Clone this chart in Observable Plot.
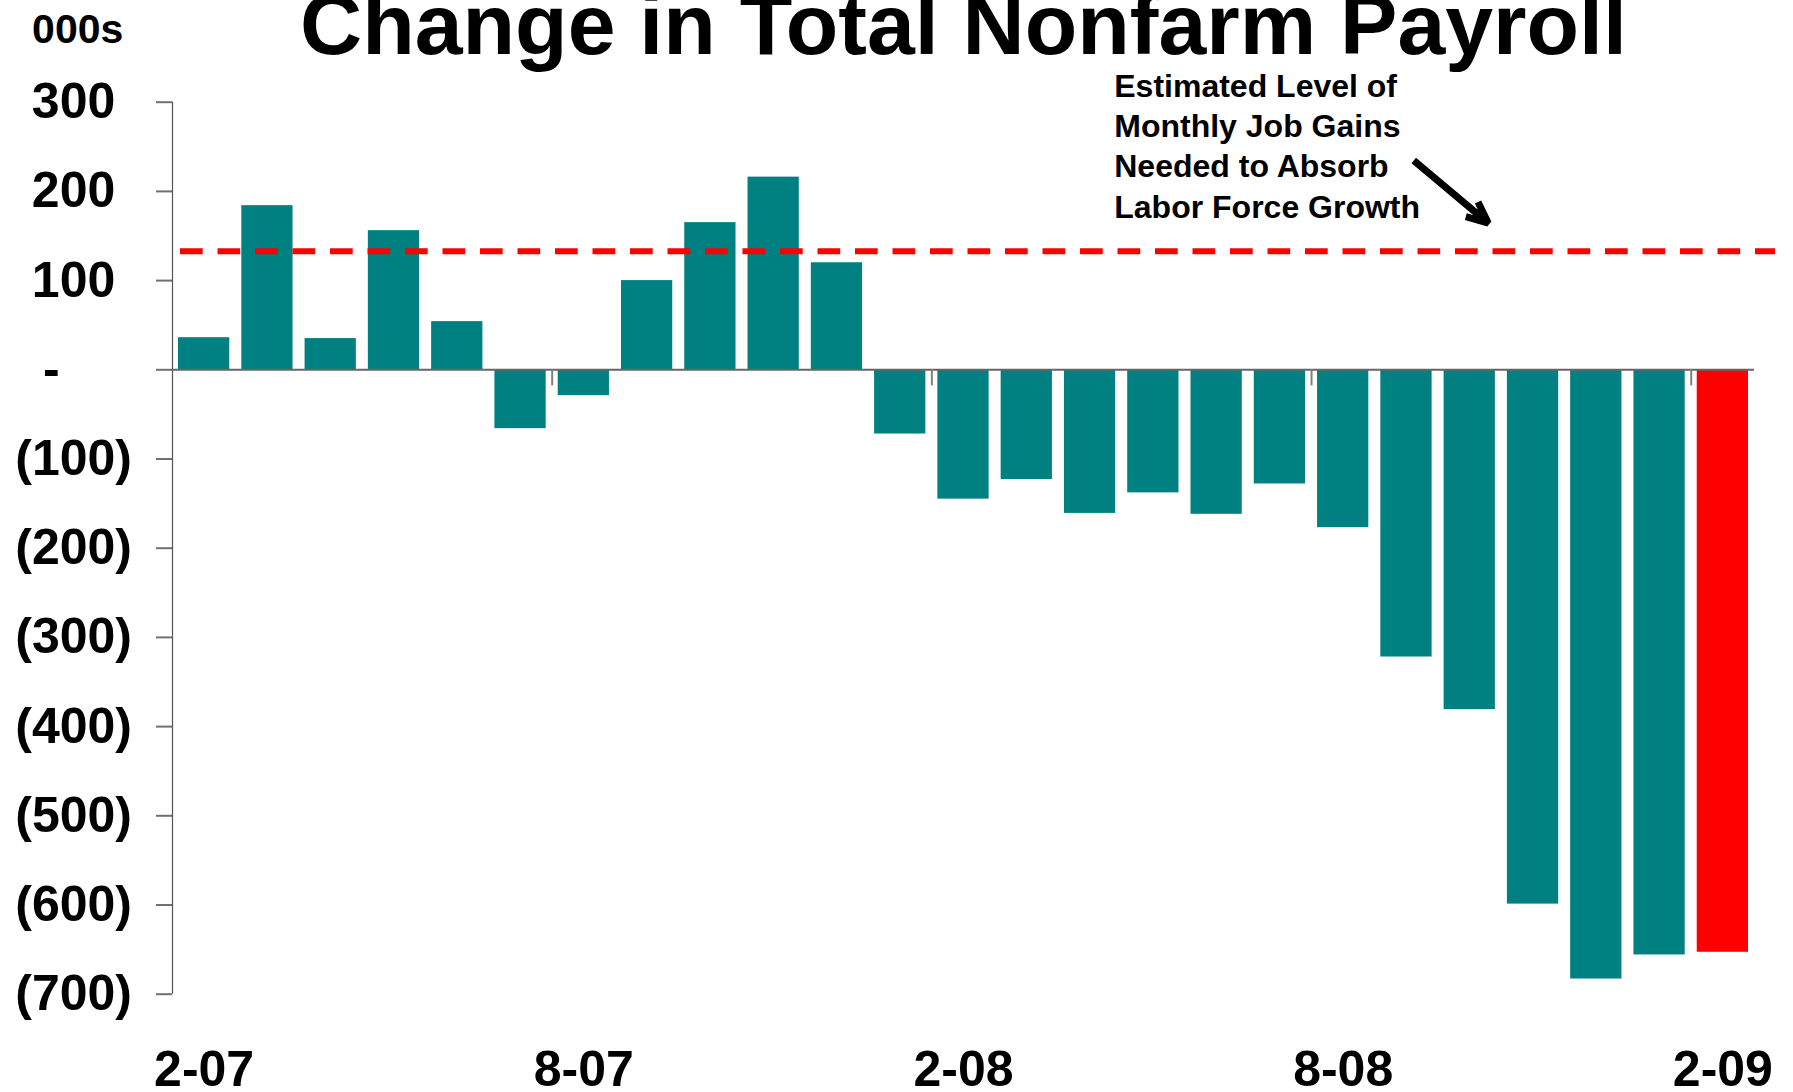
<!DOCTYPE html>
<html>
<head>
<meta charset="utf-8">
<script src="https://cdn.jsdelivr.net/npm/d3@7"></script>
<script src="https://cdn.jsdelivr.net/npm/@observablehq/plot@0.6"></script>
<style>
html, body { margin: 0; padding: 0; background: #ffffff; }
svg { display: block; }
</style>
</head>
<body>
<div id="chart"></div>
<script>
// ---- data ----
const months = ["2-07","3-07","4-07","5-07","6-07","7-07","8-07","9-07","10-07","11-07","12-07",
                "1-08","2-08","3-08","4-08","5-08","6-08","7-08","8-08","9-08","10-08","11-08","12-08",
                "1-09","2-09"];
const payroll = [36, 184, 35, 156, 54, -66, -29, 100, 165, 216, 120,
                 -72, -145, -123, -161, -138, -162, -128, -177, -322, -381, -599, -683,
                 -656, -653];
const highlightMonth = "2-09";
const labelMonths = ["2-07", "8-07", "2-08", "8-08", "2-09"];
const yTicks = [300, 200, 100, 0, -100, -200, -300, -400, -500, -600, -700];
const thresholdValue = 133;
const titleText = "Change in Total Nonfarm Payroll";
const unitText = "000s";
const annotationLines = ["Estimated Level of", "Monthly Job Gains", "Needed to Absorb", "Labor Force Growth"];

const rows = months.map((m, i) => ({month: m, value: payroll[i], est: m === highlightMonth}));

const FONT = "'Liberation Sans', Arial, Helvetica, sans-serif";
const W = 1793, H = 1092;
const ML = 172, MR = 39, MT = 101.7, MB = 98.3;
const halfStep = (W - ML - MR) / months.length / 2;

const chart = Plot.plot({
  width: W,
  height: H,
  marginLeft: ML,
  marginRight: MR,
  marginTop: MT,
  marginBottom: MB,
  style: {background: "#ffffff", fontFamily: FONT, color: "#000000", overflow: "visible"},
  x: {type: "band", domain: months, paddingInner: 0.19, paddingOuter: 0.095, round: false, axis: null},
  y: {domain: [-700, 300], axis: null},
  marks: [
    // bars
    Plot.barY(rows, {x: "month", y: "value", fill: d => d.est ? "#FF0000" : "#008080"}),
    // y axis line
    Plot.ruleX([months[0]], {dx: -halfStep, y1: -700, y2: 300, stroke: "#555555", strokeWidth: 1.2}),
    // y ticks
    Plot.axisY({ticks: yTicks, tickSize: 16, tickFormat: () => "", stroke: "#707070", strokeWidth: 2, label: null}),
    // zero baseline
    Plot.ruleY([0], {stroke: "#666666", strokeWidth: 2}),
    // x ticks at category boundaries
    Plot.ruleX(labelMonths.slice(1), {dx: -halfStep, y1: 0, y2: -18, stroke: "#808080", strokeWidth: 2}),
    // threshold dashed line
    Plot.ruleY([thresholdValue], {stroke: "#FF0000", strokeWidth: 6, strokeDasharray: "22.7,14.8", insetLeft: 8, insetRight: -21}),
    // y tick labels
    Plot.text(yTicks.filter(d => d > 0), {y: d => d, text: d => String(d), frameAnchor: "left", textAnchor: "end", dx: -57.2,
      fontSize: 50, fontWeight: "bold", fill: "#000000"}),
    Plot.text(yTicks.filter(d => d === 0), {y: d => d, text: () => "-", frameAnchor: "left", textAnchor: "end", dx: -112.8,
      fontSize: 50, fontWeight: "bold", fill: "#000000"}),
    Plot.text(yTicks.filter(d => d < 0), {y: d => d, text: d => `(${-d})`, frameAnchor: "left", textAnchor: "end", dx: -40.5,
      fontSize: 50, fontWeight: "bold", fill: "#000000"}),
    // x tick labels
    Plot.text(labelMonths, {x: d => d, text: d => d, frameAnchor: "bottom", lineAnchor: "middle", dy: 75.3,
      fontSize: 50, fontWeight: "bold", fill: "#000000"}),
    // title
    Plot.text([titleText], {frameAnchor: "top", lineAnchor: "middle", text: d => d, dy: -76.2, fontSize: 86, fontWeight: "bold", fill: "#000000"}),
    // units label
    Plot.text([unitText], {frameAnchor: "top-left", lineAnchor: "middle", text: d => d, textAnchor: "start", dx: -140.4, dy: -72.8,
      fontSize: 41, fontWeight: "bold", fill: "#000000"}),
    // annotation
    Plot.text([annotationLines.join("\n")], {x: () => "4-08", y: () => 300, text: d => d, textAnchor: "start",
      lineAnchor: "top", lineHeight: 1.256, dx: 24.2, dy: -33.7, fontSize: 32, fontWeight: "bold", fill: "#000000"}),
    // arrow
    Plot.arrow([{a: "9-08", b: "11-08", ya: 234.6, yb: 115.5}], {x1: "a", x2: "b", y1: "ya", y2: "yb", dx: 7.3,
      insetEnd: 68, stroke: "#000000", strokeWidth: 7, headLength: 5, headAngle: 48,
      strokeLinecap: "butt", strokeLinejoin: "miter"})
  ]
});

document.getElementById("chart").appendChild(chart);
</script>
</body>
</html>
